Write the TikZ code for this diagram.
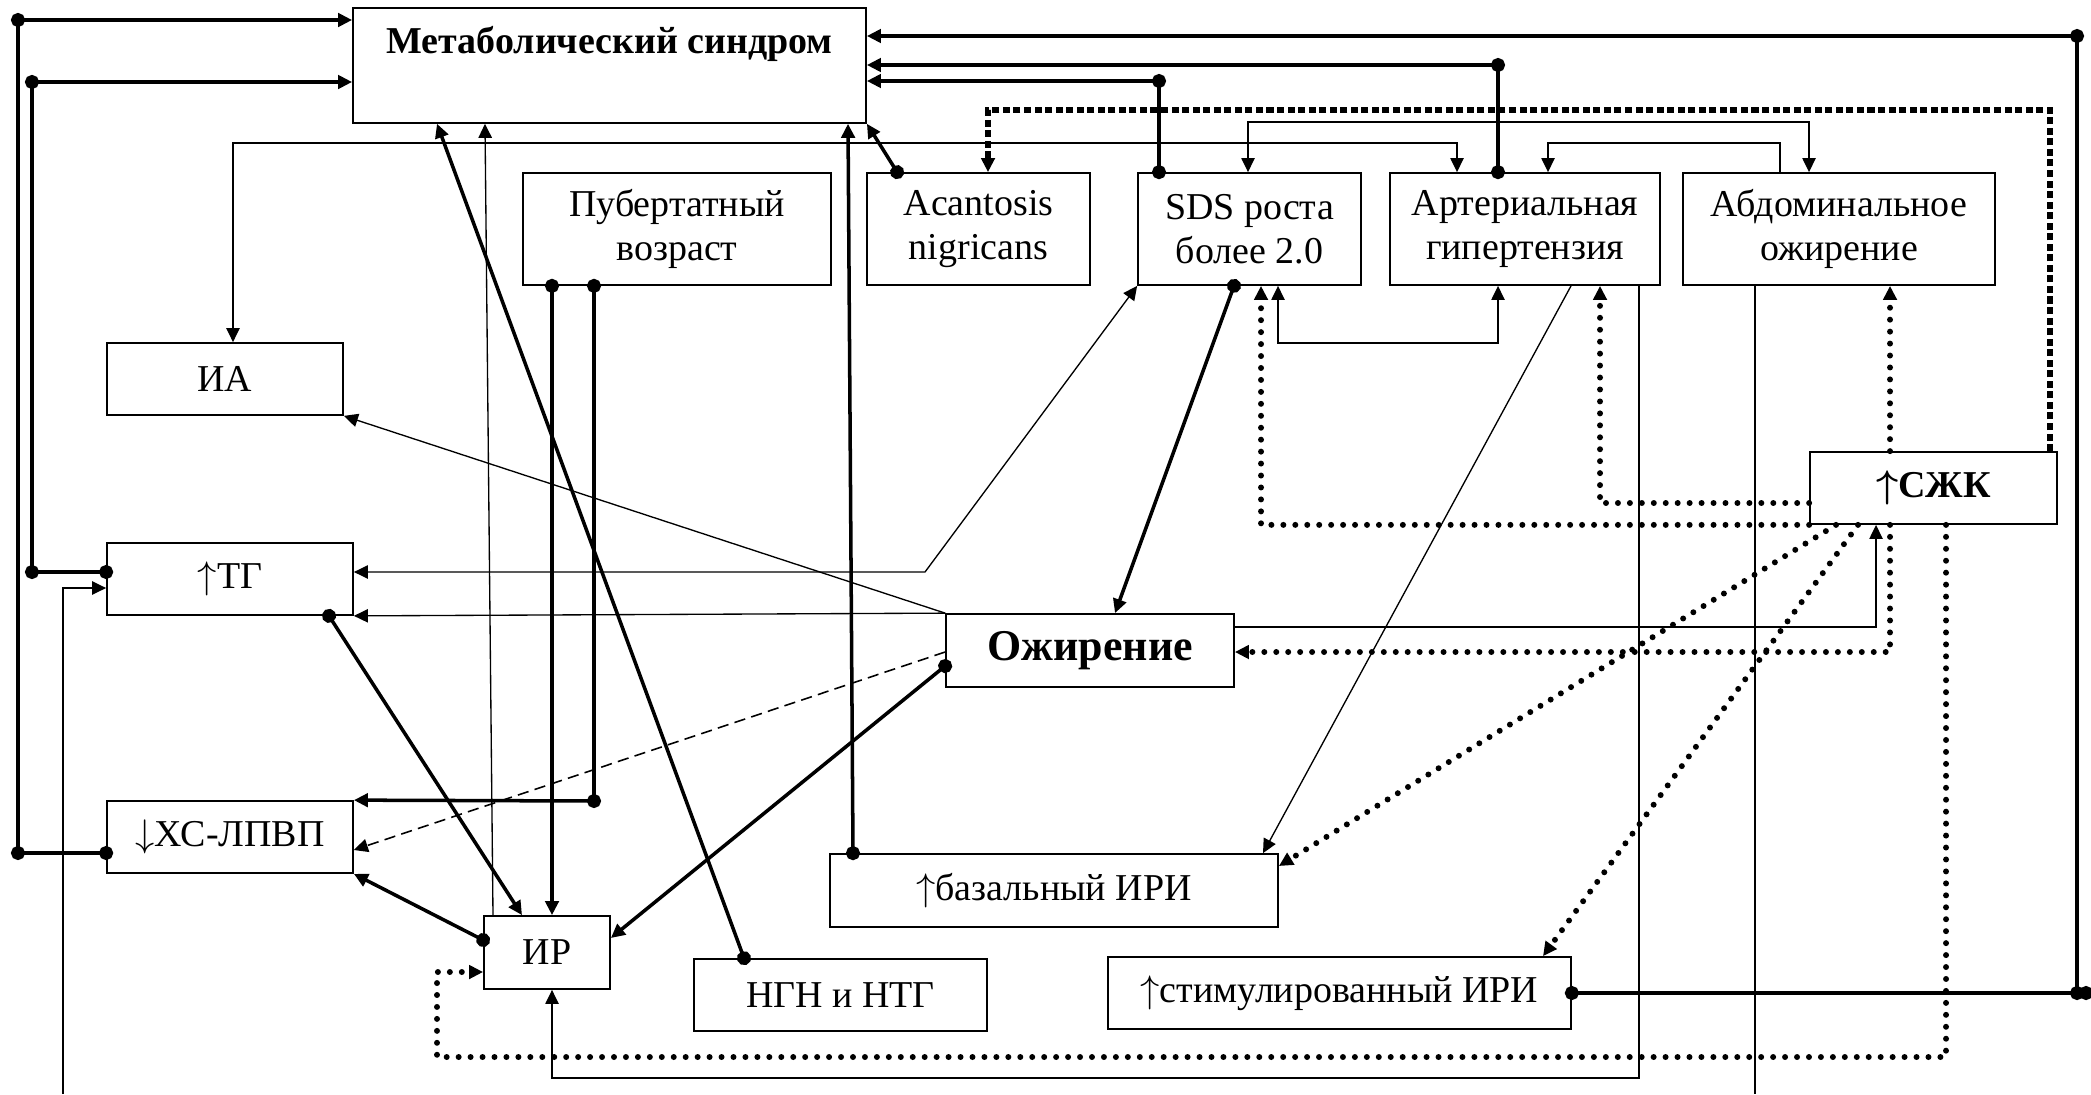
\documentclass[tikz,border=0pt]{standalone}
\usepackage{fontspec}
\setmainfont{Liberation Serif}
\usetikzlibrary{arrows.meta}

\begin{document}
\begin{tikzpicture}[>={Triangle[length=4pt,width=3.8pt]},
  box/.style={draw, line width=0.5pt, fill=white, inner sep=0pt, align=center,
    font=\fontsize{10.8pt}{12.4pt}\selectfont},
  weak/.style={line width=0.38pt},
  strong/.style={line width=1pt},
  dots/.style={line width=1.7pt, line cap=round, dash pattern=on 0pt off 3.4pt},
  squares/.style={line width=1.8pt, dash pattern=on 2pt off 1pt},
  broken/.style={line width=0.45pt, dash pattern=on 3.2pt off 1.8pt},
  twodots/.style={{Circle[length=4pt]}-{Circle[length=4pt]}, shorten <=-2pt, shorten >=-2pt},
  dotarrow/.style={{Circle[length=4pt]}->, shorten <=-2pt},
  enddot/.style={-{Circle[length=4pt]}, shorten >=-2pt}]
  \useasboundingbox (0,0) rectangle (20.91,-10.94);

  % boxes
  \node[box, minimum width=5.13cm, text height=0.46cm, text depth=0.69cm, anchor=north,
    font=\fontsize{10.8pt}{12.4pt}\selectfont\bfseries] (ms) at (6.095,-0.07) {Метаболический синдром};
  \node[box, minimum width=3.08cm, minimum height=1.12cm] (pub) at (6.77,-2.29) {Пубертатный\\возраст};
  \node[box, minimum width=2.23cm, minimum height=1.12cm] (acan) at (9.785,-2.29) {Acantosis\\nigricans};
  \node[box, minimum width=2.23cm, minimum height=1.12cm] (sds) at (12.495,-2.29) {SDS роста\\более 2.0};
  \node[box, minimum width=2.70cm, minimum height=1.12cm] (ag) at (15.25,-2.29) {Артериальная\\гипертензия};
  \node[box, minimum width=3.12cm, minimum height=1.12cm] (abd) at (18.39,-2.29) {Абдоминальное\\ожирение};
  \node[box, minimum width=2.36cm, minimum height=0.72cm] (ia) at (2.25,-3.79) {ИА};
  \node[box, minimum width=2.46cm, minimum height=0.72cm] (tg) at (2.30,-5.79) {$\uparrow$ТГ};
  \node[box, minimum width=2.88cm, minimum height=0.73cm,
    font=\fontsize{12.5pt}{15pt}\selectfont\bfseries] (ob) at (10.90,-6.505) {Ожирение};
  \node[box, minimum width=2.47cm, minimum height=0.72cm,
    font=\fontsize{10.8pt}{12.4pt}\selectfont\bfseries\boldmath] (szk) at (19.335,-4.88) {$\uparrow$СЖК};
  \node[box, minimum width=2.46cm, minimum height=0.72cm] (hdl) at (2.30,-8.37) {$\downarrow$ХС-ЛПВП};
  \node[box, minimum width=1.26cm, minimum height=0.73cm] (ir) at (5.47,-9.525) {ИР};
  \node[box, minimum width=2.93cm, minimum height=0.72cm] (ngn) at (8.405,-9.95) {НГН и НТГ};
  \node[box, minimum width=4.48cm, minimum height=0.73cm] (bas) at (10.54,-8.905) {$\uparrow$базальный ИРИ};
  \node[box, minimum width=4.63cm, minimum height=0.72cm] (stim) at (13.395,-9.93) {$\uparrow$стимулированный ИРИ};

  % bus corners
  \coordinate (lt) at (0.18,-0.20);
  \coordinate (lb) at (0.18,-8.53);
  \coordinate (it) at (0.32,-0.82);
  \coordinate (ib) at (0.32,-5.72);
  \coordinate (rt) at (20.77,-0.36);
  \coordinate (rb) at (20.77,-9.93);
  \coordinate (rbx) at (20.86,-9.93);
  \coordinate (agup) at (14.98,-0.65);
  \coordinate (sdsup) at (11.59,-0.81);
  \coordinate (hdlup) at (5.94,-8.01);
  \coordinate (lowin) at (0.63,-10.94);
  \coordinate (abdout) at (17.55,-10.94);

  % left bus
  \draw[strong, twodots] (lt) -- (lb);
  \draw[strong, ->] (lt) -- (lt -| ms.west);
  \draw[strong, enddot] (lb) -- (lb -| hdl.west);
  \draw[strong, twodots] (it) -- (ib);
  \draw[strong, ->] (it) -- (it -| ms.west);
  \draw[strong, enddot] (ib) -- (ib -| tg.west);
  \draw[weak, ->] (lowin) |- ([yshift=-0.09cm]tg.west);

  % right bus
  \draw[strong, twodots] (rt) -- (rb);
  \draw[strong, ->] (rt) -- (rt -| ms.east);
  \draw[strong, twodots] (stim.east) -- (rbx);
  \draw[strong, twodots] (ag.north -| agup) -- (agup);
  \draw[strong, ->] (agup) -- (agup -| ms.east);
  \draw[strong, twodots] (sds.north -| sdsup) -- (sdsup);
  \draw[strong, ->] (sdsup) -- (sdsup -| ms.east);
  \draw[strong, dotarrow] ([xshift=0.31cm]acan.north west) -- (ms.south east);
  \draw[squares, ->] (szk.north -| 20.50,0) |- (9.88,-1.10) -- (acan.north -| 9.88,0);

  % top row links
  \draw[weak, <->] (ia.north -| 2.33,0) |- (14.57,-1.43) -- (ag.north -| 14.57,0);
  \draw[weak, <->] (sds.north -| 12.48,0) |- (18.09,-1.22) -- (abd.north -| 18.09,0);
  \draw[weak, ->] (abd.north -| 17.80,0) |- (15.48,-1.43) -- (ag.north -| 15.48,0);
  \draw[weak, <->] ([yshift=0.07cm]tg.east) -- (9.25,-5.72) -- (sds.south west);
  \draw[strong, dotarrow] (sds.south -| 12.34,0) -- (ob.north -| 11.15,0);
  \draw[weak, <->] (sds.south -| 12.78,0) |- (14.98,-3.43) -- (ag.south -| 14.98,0);
  \draw[weak, ->] (ag.south -| 15.71,0) -- (bas.north -| 12.63,0);
  \draw[weak, ->] (ag.south -| 16.39,0) |- (5.52,-10.78) -- (ir.south -| 5.52,0);
  \draw[weak] (abd.south -| 17.55,0) -- (abdout);

  % free fatty acids
  \draw[dots, ->] (szk.south west) -| (sds.south -| 12.61,0);
  \draw[dots, ->] (szk.west |- 0,-5.03) -| (ag.south -| 16.00,0);
  \draw[dots, ->] (szk.north -| 18.90,0) -- (abd.south -| 18.90,0);
  \draw[dots, ->] (szk.south -| 18.90,0) |- (ob.east |- 0,-6.52);
  \draw[dots, ->] (szk.south -| 18.36,0) -- (bas.east |- 0,-8.66);
  \draw[dots, ->] (szk.south -| 18.58,0) -- (stim.north -| 15.43,0);
  \draw[dots, ->] (szk.south -| 19.46,0) |- (4.37,-10.57) |- (ir.west |- 0,-9.72);

  % obesity
  \draw[weak, ->] (ob.east |- 0,-6.27) -| (szk.south -| 18.76,0);
  \draw[weak, ->] (ob.north west) -- (ia.south east);
  \draw[weak, ->] (ob.north west) -- (tg.south east);
  \draw[broken, ->] (ob.west |- 0,-6.52) -- (hdl.east |- 0,-8.50);
  \draw[strong, dotarrow] (ob.west |- 0,-6.66) -- (ir.east |- 0,-9.38);

  % insulin resistance
  \draw[strong, dotarrow] (tg.south -| 3.29,0) -- (ir.north -| 5.22,0);
  \draw[strong, dotarrow] (ir.west |- 0,-9.40) -- (hdl.south east);
  \draw[strong, dotarrow] (pub.south -| 5.52,0) -- (ir.north -| 5.52,0);
  \draw[strong, twodots] (pub.south -| 5.94,0) -- (hdlup);
  \draw[strong, ->] (hdlup) -- (hdl.north east);
  \draw[strong, dotarrow] (ngn.north -| 7.44,0) -- (ms.south -| 4.37,0);
  \draw[weak, ->] (ir.north -| 4.93,0) -- (ms.south -| 4.85,0);
  \draw[strong, dotarrow] (bas.north -| 8.53,0) -- (ms.south -| 8.48,0);
\end{tikzpicture}
\end{document}
